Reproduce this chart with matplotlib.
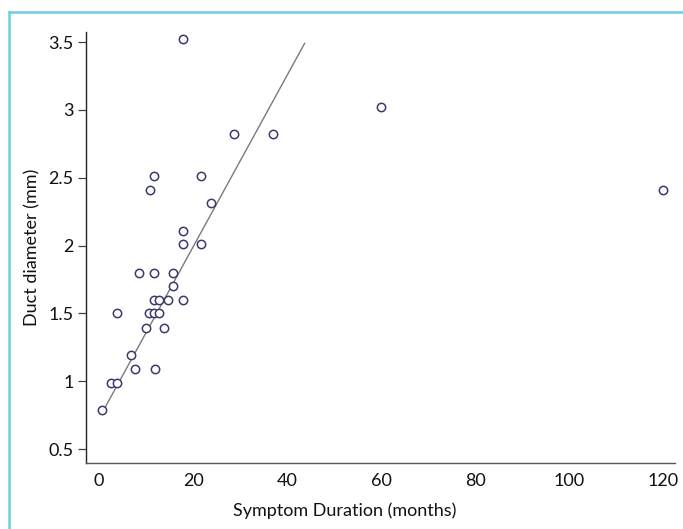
import matplotlib
matplotlib.use("Agg")
import matplotlib.pyplot as plt
from matplotlib.lines import Line2D

# ---- data ----
duration_months = [0.6, 2.5, 3.9, 3.8, 6.7, 7.7, 8.5, 9.9, 10.6, 11.6, 11.6, 11.6, 11.8,
                   12.8, 12.7, 13.8, 14.6, 15.7, 15.7, 17.9, 17.8, 17.8, 17.9, 10.8, 11.7,
                   21.6, 21.6, 23.8, 28.7, 36.9, 60.0, 120.0]
duct_diameter_mm = [0.79, 0.99, 0.99, 1.50, 1.19, 1.09, 1.80, 1.39, 1.50, 1.50, 1.60, 1.80, 1.09,
                    1.50, 1.60, 1.39, 1.60, 1.70, 1.80, 1.60, 3.52, 2.11, 2.01, 2.41, 2.51,
                    2.01, 2.51, 2.31, 2.82, 2.82, 3.02, 2.41]
fit_x = [1.0, 43.7]
fit_y = [0.79, 3.49]

x_ticks = [0, 20, 40, 60, 80, 100, 120]
y_ticks = [0.5, 1, 1.5, 2, 2.5, 3, 3.5]
y_ticklabels = ["0.5", "1", "1.5", "2", "2.5", "3", "3.5"]

plt.rcParams['font.family'] = ['Lato', 'DejaVu Sans']

fig = plt.figure(figsize=(6.83, 5.29), dpi=100)
ax = fig.add_axes([86/683, 66/529, (675-86)/683, (463-32)/529])

ax.plot(fit_x, fit_y, color='#7a7a7a', lw=1.0, zorder=2)
ax.plot(duration_months, duct_diameter_mm, linestyle='none', marker='o', markersize=6,
        markerfacecolor='white', markeredgecolor='#3b3b6b', markeredgewidth=1.1, zorder=3)

ax.set_xlim(-2.8, 122.5)
ax.set_ylim(0.397, 3.574)
ax.set_xticks(x_ticks)
ax.set_yticks(y_ticks)
ax.set_yticklabels(y_ticklabels)

for s in ['top', 'right']:
    ax.spines[s].set_visible(False)
ax.spines['left'].set_color('#222222')
ax.spines['bottom'].set_color('#555555')
ax.spines['left'].set_linewidth(1.0)
ax.spines['bottom'].set_linewidth(1.0)

ax.tick_params(axis='x', length=0, pad=7, labelsize=13, colors='#111111')
ax.tick_params(axis='y', length=6, width=0.9, pad=3, labelsize=13, colors='#111111')
ax.tick_params(axis='y', color='#444444')

ax.set_xlabel('Symptom Duration (months)', fontsize=13, color='#111111')
ax.xaxis.set_label_coords((345 - 86) / 589, -39 / 431)
ax.set_ylabel('Duct diameter (mm)', fontsize=13, color='#111111')
ax.yaxis.set_label_coords(-46 / 589, 0.5)

# light blue frame (left and top edges visible)
border_col = '#6fcde6'
fig.add_artist(Line2D([8.5/683, 8.5/683], [0, 1 - 11.5/529], transform=fig.transFigure,
                      color=border_col, lw=1.8))
fig.add_artist(Line2D([8.5/683, 1], [1 - 11.5/529, 1 - 11.5/529], transform=fig.transFigure,
                      color=border_col, lw=1.8))

fig.savefig('out.png', dpi=100)
